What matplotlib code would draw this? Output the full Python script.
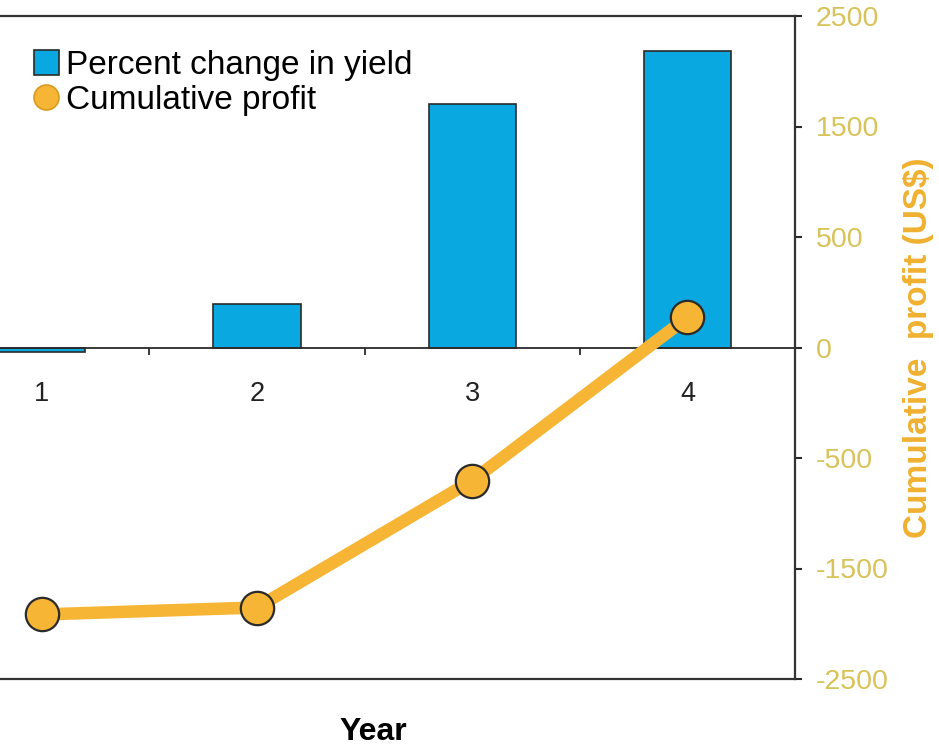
import numpy as np
import matplotlib
matplotlib.use("Agg")
import matplotlib.pyplot as plt
from matplotlib.lines import Line2D

# ---- data ----
years = [1, 2, 3, 4]
yield_change = [-0.9, 7.8, 44.0, 53.6]          # percent change in yield (left axis, not shown)
cum_profit = [-1916, -1853, -704, 136]          # cumulative profit (US$)
profit_ticks = [2500, 1500, 500, 0, -500, -1500, -2500]
profit_tick_labels = ["2500", "1500", "500", "0", "-500", "-1500", "-2500"]
tick_pos = [3, 2, 1, 0, -1, -2, -3]

BLUE = "#0AA8E0"
ORANGE = "#F6B534"
TICKCOL = "#D8C25A"
LABCOL = "#F0B030"
DARK = "#2a2a2a"

plt.rcParams['font.family'] = ['Liberation Sans', 'DejaVu Sans']

fig = plt.figure(figsize=(9.39, 7.49), dpi=100)
W, H = 939, 749
left_px, right_px, top_px, bot_px = -65.75, 795, 16, 679
ax = fig.add_axes([left_px / W, (H - bot_px) / H, (right_px - left_px) / W, (bot_px - top_px) / H])

# bars
ax.bar(years, yield_change, width=0.405, color=BLUE, edgecolor=DARK, linewidth=1.2, zorder=2)
ax.set_xlim(0.5, 4.5)
ax.set_ylim(-60, 60)
ax.yaxis.set_visible(False)
ax.spines['left'].set_visible(False)
ax.spines['bottom'].set_position(('data', 0))
ax.spines['bottom'].set_color(DARK)
ax.spines['bottom'].set_linewidth(1.3)
ax.spines['bottom'].set_zorder(3)
ax.set_xticks(years)
ax.set_xticks([1.5, 2.5, 3.5], minor=True)
ax.tick_params(axis='x', which='major', length=0, pad=24, labelsize=19.5, labelcolor="#222222")
ax.tick_params(axis='x', which='minor', length=5, width=1.3, direction='out', color=DARK)
for s in ['top', 'right']:
    ax.spines[s].set_visible(False)

# cumulative profit on twin axis with piecewise-linear scale
ax2 = ax.twinx()
vals_sorted = np.array(profit_ticks[::-1], dtype=float)
pos_sorted = np.array(tick_pos[::-1], dtype=float)

def fwd(v):
    return np.interp(v, vals_sorted, pos_sorted, left=-3, right=3)

def inv(p):
    return np.interp(p, pos_sorted, vals_sorted)

ax2.set_yscale('function', functions=(fwd, inv))
ax2.plot(years, cum_profit, color=ORANGE, linewidth=9, solid_capstyle='round', zorder=3,
         marker='o', markersize=24, markerfacecolor=ORANGE, markeredgecolor=DARK,
         markeredgewidth=1.6)
ax2.set_ylim(-2500, 2500)
ax2.set_yticks(profit_ticks)
ax2.set_yticklabels(profit_tick_labels)
ax2.yaxis.set_minor_locator(matplotlib.ticker.NullLocator())
ax2.tick_params(axis='y', which='major', length=5, width=1.5, direction='out', color=DARK,
                pad=10, labelsize=20.5, labelcolor=TICKCOL)
for s in ['top', 'right', 'bottom']:
    ax2.spines[s].set_color("#333333")
    ax2.spines[s].set_linewidth(1.6)
ax2.spines['left'].set_visible(False)
ax2.set_ylabel("Cumulative  profit (US$)", color=LABCOL, fontsize=24, fontweight='bold', labelpad=10)

ax.set_xlabel("Year", fontsize=23, fontweight='bold', labelpad=0)
ax.xaxis.set_label_coords(((373 - left_px) / (right_px - left_px)), -(732 - bot_px) / (bot_px - top_px))
ax.xaxis.label.set_va('center')

handles = [
    Line2D([], [], linestyle='', marker='s', markersize=18, markerfacecolor=BLUE,
           markeredgecolor=DARK, markeredgewidth=1.2),
    Line2D([], [], linestyle='', marker='o', markersize=18, markerfacecolor=ORANGE,
           markeredgecolor="#d99a20", markeredgewidth=1.2),
]
leg = ax2.legend(handles, ["Percent change in yield", "Cumulative profit"],
                 loc='upper left',
                 bbox_to_anchor=((34 - left_px) / (right_px - left_px), (679 - 50) / (bot_px - top_px)),
                 frameon=False, fontsize=24, handlelength=0.75, handletextpad=0.2,
                 labelspacing=0.12, borderaxespad=0, borderpad=0)

fig.savefig("out.png", dpi=100)
